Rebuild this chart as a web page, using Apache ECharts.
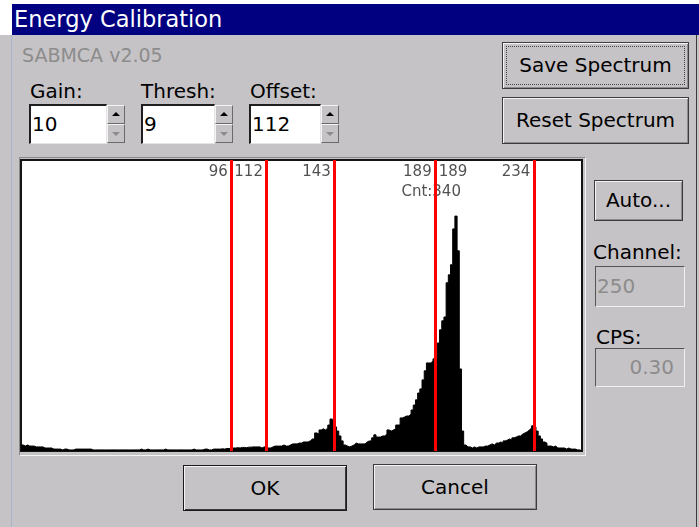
<!DOCTYPE html>
<html>
<head>
<meta charset="utf-8">
<title>Energy Calibration</title>
<script src="https://cdn.jsdelivr.net/npm/echarts@6/dist/echarts.min.js"></script>
<style>
body { margin:0; width:699px; height:527px; background:#c6c3c6; font-family:"DejaVu Sans", sans-serif; overflow:hidden; position:relative; }
.abs { position:absolute; }
.lbl { position:absolute; font-size:20px; line-height:24px; color:#000; white-space:nowrap; }
.edit { position:absolute; background:#fff; box-sizing:border-box; border-top:2px solid #1e1e1e; border-left:2px solid #1e1e1e; border-right:1px solid #e4e4e4; border-bottom:1px solid #e4e4e4; font-size:20px; padding-left:1px; color:#000; }
.edit.dis { background:#c6c3c6; color:#8c8c8c; border-top:1px solid #555; border-left:1px solid #555; border-right:1px solid #f0f0f0; border-bottom:1px solid #f0f0f0; }
.spin { position:absolute; width:18px; height:19px; box-sizing:border-box; background:#c6c3c6; border:1px solid; border-color:#f4f4f4 #6a6a6a #6a6a6a #f4f4f4; }
.up::after, .dn::after { content:""; position:absolute; left:4px; width:0; height:0; border-left:4px solid transparent; border-right:4px solid transparent; }
.up::after { top:6px; border-bottom:4px solid #000; }
.dn::after { top:7px; border-top:4px solid #8c8c8c; }
.btn { position:absolute; box-sizing:border-box; background:#c6c3c6; border:1px solid #3c3c3c; box-shadow: inset 1px 1px #f4f4f4, inset -1px -1px #8c8c8c; text-align:center; font-size:20px; color:#000; }
#chart { position:absolute; left:0; top:0; width:699px; height:527px; }
</style>
</head>
<body>
<div class="abs" style="left:0;top:0;width:699px;height:4px;background:#fff"></div>
<div class="abs" style="left:0;top:0;width:12px;height:35px;background:#fff"></div>
<div class="abs" style="left:11px;top:35px;width:1px;height:492px;background:#a8b4cc"></div>
<div class="abs" style="left:12px;top:4px;width:685px;height:31px;background:#000080;color:#fff;font-size:22.5px;line-height:31px;padding-left:2px">Energy Calibration</div>
<div class="abs" style="left:696px;top:35px;width:1px;height:492px;background:#3a3a3a"></div>

<div class="lbl" style="left:22px;top:43px;color:#8c8c8c;font-size:19px">SABMCA v2.05</div>

<div class="lbl" style="left:30px;top:79px">Gain:</div>
<div class="lbl" style="left:141px;top:79px">Thresh:</div>
<div class="lbl" style="left:250px;top:79px">Offset:</div>

<div class="edit" style="left:29px;top:104px;width:78px;height:40px;line-height:37px">10</div>
<div class="spin up" style="left:107px;top:105px"></div>
<div class="spin dn" style="left:107px;top:124px"></div>

<div class="edit" style="left:141px;top:104px;width:74px;height:40px;line-height:37px">9</div>
<div class="spin up" style="left:215px;top:105px"></div>
<div class="spin dn" style="left:215px;top:124px"></div>

<div class="edit" style="left:249px;top:104px;width:72px;height:40px;line-height:37px">112</div>
<div class="spin up" style="left:321px;top:105px"></div>
<div class="spin dn" style="left:321px;top:124px"></div>

<div class="btn" style="left:502px;top:42px;width:187px;height:47px;line-height:45px">
  <div class="abs" style="left:3px;top:3px;right:3px;bottom:3px;border:1px dotted #444"></div>Save Spectrum</div>
<div class="btn" style="left:502px;top:97px;width:187px;height:47px;line-height:45px">Reset Spectrum</div>

<div class="abs" style="left:19px;top:157px;width:565px;height:297px;border:1px solid;border-color:#8a8a8a #f4f4f4 #f4f4f4 #8a8a8a"></div>

<div class="btn" style="left:594px;top:180px;width:89px;height:41px;line-height:39px">Auto...</div>
<div class="lbl" style="left:593px;top:240px">Channel:</div>
<div class="edit dis" style="left:595px;top:266px;width:90px;height:41px;line-height:39px">250</div>
<div class="lbl" style="left:596px;top:325px">CPS:</div>
<div class="edit dis" style="left:595px;top:348px;width:90px;height:39px;line-height:37px;text-align:right;padding-right:10px">0.30</div>

<div class="btn" style="left:183px;top:465px;width:164px;height:46px;line-height:44px;border-color:#1a1a1a;box-shadow: inset 1px 1px #f4f4f4, inset -1px -1px #3a3a3a">OK</div>
<div class="btn" style="left:373px;top:464px;width:164px;height:46px;line-height:44px">Cancel</div>

<div id="chart"></div>
<script>
// spectrum counts per channel (256 channels)
var countsLow = [22, 18, 22, 18, 18, 18, 15, 15, 15, 15, 11, 11,
    11, 11, 7, 7, 7, 7, 4];
var countsFlat = [7, 7, 4, 4, 4, 7, 7, 7, 7, 7,
    7, 7, 7, 4, 4, 4, 4, 4, 4, 4,
    4, 4, 4, 4, 4, 4, 4, 4, 4, 4,
    4, 4, 4, 4, 4, 7, 4, 4, 7, 4,
    4, 4, 4, 4, 4, 4, 7, 4, 4, 4,
    4, 4, 4, 4, 4, 4, 4, 4, 4, 7,
    4, 4, 4, 4, 7, 7, 4, 4, 7, 7];
var countsRise = [7, 7, 8, 7, 9, 9, 11, 11,
    11, 12, 11, 13, 13, 12, 14, 14,
    15, 15, 15, 15, 11, 15, 15,
    11, 11, 15, 18,
    18, 18, 18, 22, 18, 18, 22,
    26, 26, 26, 29, 29,
    33, 33, 33, 37,
    44, 44, 66, 62,
    77, 81, 77, 84];
var countsPeak1 = [95, 117, 110, 88, 73, 55, 37, 22, 18, 15];
var countsMain = [18, 22, 29, 26, 26, 26, 26, 33, 37, 37,
    48, 59, 51, 51, 55, 55, 62, 77, 73, 77,
    81, 95, 95, 121, 124, 128, 128, 135, 150, 168,
    187, 212, 227, 260, 293, 322, 322, 329, 337, 340,
    395, 443, 476, 490, 615, 644, 681, 812, 859, 732,
    300, 73, 22, 15, 15, 11, 15, 11, 15, 15];
var countsHigh = [15, 18, 18, 22, 26, 22, 29, 29, 33, 29,
    37, 40, 44, 40, 48, 51, 55, 55, 62, 66,
    70, 77, 84, 92, 88, 73, 55, 44, 33, 29,
    18, 18, 15, 18, 11, 11, 11, 11, 7, 11,
    7, 7, 7, 4, 4, 0];
var counts = [].concat(countsLow, countsFlat, countsRise, countsPeak1, countsMain, countsHigh);

var channelCount = 256;
var yMax = 1064;

// marker channels, label drawn just left of each line
var markers = [96, 112, 143, 189, 234];
var cursorChannel = 189;

var histData = counts.map(function (v, i) { return [i, v]; });
histData.push([channelCount, counts[counts.length - 1]]);

var labelData = markers.map(function (m) {
    return { value: [m, yMax * 0.96], name: String(m), label: { position: 'left' } };
});
labelData.push({ value: [cursorChannel, yMax * 0.96], name: String(cursorChannel), label: { position: 'right' } });
labelData.push({ value: [cursorChannel, yMax * 0.89], name: 'Cnt:' + counts[cursorChannel], label: { position: 'inside', offset: [-4, 0] } });

var myChart = echarts.init(document.getElementById('chart'));
var option = {
    animation: false,
    grid: {
        left: 21, top: 160, width: 561, height: 291,
        show: true, backgroundColor: '#fff', borderColor: '#141414', borderWidth: 2
    },
    xAxis: {
        type: 'value', min: 0, max: channelCount,
        axisLine: { show: false }, axisTick: { show: false },
        axisLabel: { show: false }, splitLine: { show: false }
    },
    yAxis: {
        type: 'value', min: 0, max: yMax,
        axisLine: { show: false }, axisTick: { show: false },
        axisLabel: { show: false }, splitLine: { show: false }
    },
    series: [
        {
            type: 'scatter',
            z: 1,
            silent: true,
            symbolSize: 1,
            itemStyle: { color: 'rgba(0,0,0,0)' },
            data: labelData,
            label: {
                show: true,
                distance: 3,
                formatter: function (p) { return p.name; },
                color: '#262626',
                fontFamily: 'DejaVu Sans',
                fontSize: 15
            }
        },
        {
            type: 'line',
            z: 3,
            step: 'end',
            symbol: 'none',
            data: histData,
            lineStyle: { color: '#000', width: 1 },
            areaStyle: { color: '#000', opacity: 1 },
            markLine: {
                silent: true,
                symbol: ['none', 'none'],
                label: { show: false },
                lineStyle: { color: '#ff0000', width: 3, type: 'solid' },
                data: markers.map(function (m) { return { xAxis: m }; })
            }
        }
    ]
};
myChart.setOption(option);
</script>
</body>
</html>
